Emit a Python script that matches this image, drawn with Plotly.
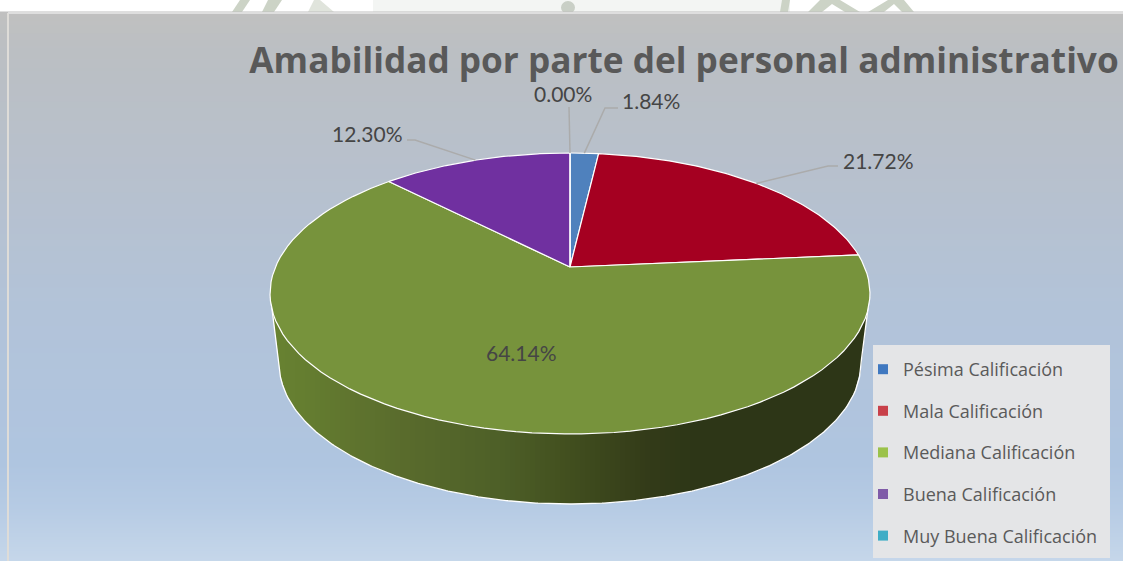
import numpy as np
import plotly.graph_objects as go

# ---- data ----
categories = ["Pésima Calificación", "Mala Calificación", "Mediana Calificación",
              "Buena Calificación", "Muy Buena Calificación"]
values = [1.84, 21.72, 64.14, 12.30, 0.00]
value_labels = ["1.84%", "21.72%", "64.14%", "12.30%", "0.00%"]
slice_colors = ["#4f81bd", "#a50021", "#77933c", "#7030a0", "#4bacc6"]
legend_colors = ["#3f78c0", "#c8404a", "#9bc24a", "#7f5ba8", "#3fadc6"]
title_text = "Amabilidad por parte del personal administrativo"

# ---- geometry of the tilted disc (pixel-like axes) ----
W, H = 1123, 561
VX, VY = 570, 267          # vertex of the slices
PA, PB, PC = 135.5, 0.1886, 294.6   # perspective mapping of the disc
BX, BY, BRX, BRY = 570, 363, 291, 141   # lower rim of the wall
TOPMID = 293


def rim(theta):
    s, c = np.sin(theta), np.cos(theta)
    d = 1 + PB * c
    return VX + PC * s / d, VY - PA * c / d


total = sum(values)
edges = np.concatenate([[0], np.cumsum(values)]) / total * 2 * np.pi

fig = go.Figure()

# background gradient
bg_y = np.arange(13, 563, 3)
bg_x = [9, 1123]
fig.add_trace(go.Heatmap(
    x=bg_x, y=bg_y, z=[[float(v), float(v)] for v in bg_y], zmin=13, zmax=561,
    showscale=False, hoverinfo="skip", zsmooth="best",
    colorscale=[[0.0, "#c0c0c0"], [0.07, "#bbbfc3"], [0.25, "#b8c0cb"],
                [0.55, "#b2c3d9"], [0.82, "#afc5e0"], [0.90, "#b6cbe4"], [1.0, "#c6d7ea"]],
))


# wall of the disc, drawn in vertical strips
def lower_edge(x):
    dx = x - BX
    if abs(dx) <= BRX:
        return BY + BRY * np.sqrt(max(0.0, 1 - (dx / BRX) ** 2))
    side_x = 270 if dx < 0 else 870
    corner = BX - BRX if dx < 0 else BX + BRX
    return TOPMID + (BY - TOPMID) * (x - side_x) / (corner - side_x)


shade_x = [270, 400, 500, 570, 650, 690, 870]
shade_r = [0x69, 0x5a, 0x4e, 0x42, 0x33, 0x2e, 0x2d]
shade_g = [0x84, 0x6c, 0x60, 0x4f, 0x3b, 0x37, 0x36]
shade_b = [0x32, 0x2d, 0x28, 0x1f, 0x19, 0x17, 0x17]
strips = np.linspace(270, 870, 121)
for a, b in zip(strips[:-1], strips[1:]):
    m = (a + b) / 2
    col = "rgb(%d,%d,%d)" % (np.interp(m, shade_x, shade_r), np.interp(m, shade_x, shade_g),
                             np.interp(m, shade_x, shade_b))
    e = min(b + 0.8, 870)
    fig.add_trace(go.Scatter(
        x=[a, e, e, a], y=[TOPMID, TOPMID, lower_edge(e), lower_edge(a)],
        mode="lines", fill="toself", fillcolor=col, line=dict(width=0),
        hoverinfo="skip", showlegend=False))

hull_x = np.linspace(270.5, 869.5, 301)
fig.add_trace(go.Scatter(x=hull_x, y=[lower_edge(v) for v in hull_x], mode="lines",
                         line=dict(color="white", width=1.3), hoverinfo="skip", showlegend=False))

# top face
for i, name in enumerate(categories):
    th = np.linspace(edges[i], edges[i + 1], 90)
    rx, ry = rim(th)
    fig.add_trace(go.Scatter(
        x=np.concatenate([[VX], rx, [VX]]), y=np.concatenate([[VY], ry, [VY]]),
        mode="lines", fill="toself", fillcolor=slice_colors[i],
        line=dict(color="white", width=1.2), name=name, text=value_labels[i],
        hoverinfo="text+name", showlegend=False))

# leader lines and labels
leader_elbow = [(605, 108, 618, 108), (828, 166, 838, 166), None, (415, 140, 407, 140), (569, 107, 569, 107)]
label_pos = [(651, 100), (878, 160), (521, 352), (367, 133), (563, 93)]
for i, name in enumerate(categories):
    mid = (edges[i] + edges[i + 1]) / 2
    rx, ry = rim(mid)
    if leader_elbow[i]:
        ex, ey, fx, fy = leader_elbow[i]
        fig.add_trace(go.Scatter(x=[float(rx), ex, fx], y=[float(ry), ey, fy], mode="lines",
                                 line=dict(color="#ababab", width=1.5),
                                 hoverinfo="skip", showlegend=False))
    fig.add_annotation(x=label_pos[i][0], y=label_pos[i][1], text=value_labels[i], showarrow=False,
                       xanchor="center", yanchor="middle",
                       font=dict(family="Lato, Carlito, sans-serif", size=21, color="#454545"))

# legend
for name, c in zip(categories, legend_colors):
    fig.add_trace(go.Scatter(x=[None], y=[None], mode="markers", name=name, legendgroup=name,
                             marker=dict(symbol="square", size=10, color=c)))

watermark = "#ccd3c6"
shapes = [
    dict(type="rect", xref="x", yref="y", x0=373, x1=790, y0=0, y1=12, fillcolor="#f3f5f3",
         line_width=0, layer="below"),
    dict(type="circle", xref="x", yref="y", x0=561, x1=575, y0=1, y1=14, fillcolor="#c9cfc6",
         line_width=0, layer="below"),
    dict(type="path", xref="x", yref="y", path="M232,12 L240,0 L250,0 L242,12 Z", fillcolor=watermark,
         line_width=0, layer="below"),
    dict(type="path", xref="x", yref="y", path="M262,12 L268,0 L282,0 L274,12 Z", fillcolor=watermark,
         line_width=0, layer="below"),
    dict(type="path", xref="x", yref="y", path="M308,12 L314,0 L320,0 L334,12 Z", fillcolor="#e0e4dc",
         line_width=0, layer="below"),
    dict(type="path", xref="x", yref="y", path="M780,12 L782,0 L790,0 L788,12 Z", fillcolor=watermark,
         line_width=0, layer="below"),
    dict(type="path", xref="x", yref="y", path="M808,12 L820,0 L840,0 L860,12 L845,12 L832,4 L822,12 Z",
         fillcolor=watermark, line_width=0, layer="below"),
    dict(type="path", xref="x", yref="y", path="M868,12 L888,0 L904,0 L914,12 L902,12 L894,4 L884,12 Z",
         fillcolor=watermark, line_width=0, layer="below"),
    # chart frame
    dict(type="line", xref="x", yref="y", x0=8, x1=8, y0=13, y1=561, line=dict(color="#dedcd8", width=2)),
    dict(type="line", xref="x", yref="y", x0=8, x1=1123, y0=13, y1=13, line=dict(color="#dedede", width=2)),
    # legend panel
    dict(type="rect", xref="x", yref="y", x0=873, x1=1110, y0=345, y1=558, fillcolor="#e4e5e7",
         line_width=0, layer="above"),
]

fig.update_layout(
    width=W, height=H, margin=dict(l=0, r=0, t=0, b=0), autosize=False,
    paper_bgcolor="white", plot_bgcolor="white",
    xaxis=dict(range=[0, W], visible=False, fixedrange=True),
    yaxis=dict(range=[H, 0], visible=False, fixedrange=True),
    title=dict(text=title_text, x=684 / W, y=1 - 61 / H, xref="paper", yref="paper",
               xanchor="center", yanchor="middle",
               font=dict(family="Open Sans, sans-serif", size=35.2, color="#595959", weight="bold")),
    legend=dict(x=863 / W, y=1 - 351 / H, xanchor="left", yanchor="top", bgcolor="rgba(0,0,0,0)",
                tracegroupgap=15.2, font=dict(family="Open Sans, sans-serif", size=18, color="#5a5a5a")),
    shapes=shapes,
)

fig.write_html("out.html", config={"displayModeBar": False}, default_width="1123px", default_height="561px",
               post_script=("document.body.style.margin='0';document.body.style.overflow='hidden';"
                            "var gd=document.getElementById('{plot_id}');"
                            "gd.style.width='1123px';gd.style.height='561px';"
                            "Plotly.relayout(gd,{width:1123,height:561});"))
